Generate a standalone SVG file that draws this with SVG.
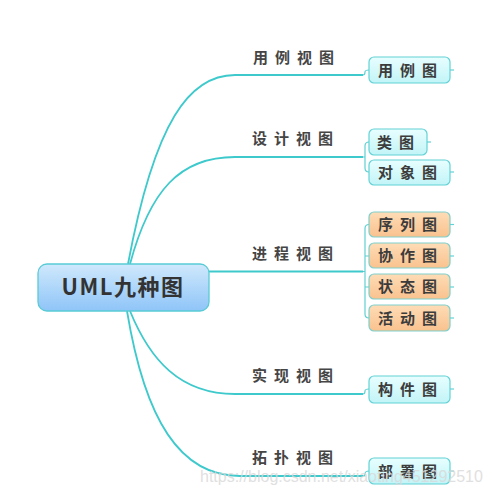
<svg xmlns="http://www.w3.org/2000/svg" width="490" height="495" viewBox="0 0 490 495">
<defs>
<linearGradient id="gRoot" x1="0" y1="0" x2="0" y2="1"><stop offset="0" stop-color="#cfe8fc"/><stop offset="1" stop-color="#8fc5f8"/></linearGradient>
<linearGradient id="gCyan" x1="0" y1="0" x2="0" y2="1"><stop offset="0" stop-color="#e8feff"/><stop offset="1" stop-color="#c2f4f7"/></linearGradient>
<linearGradient id="gOrange" x1="0" y1="0" x2="0" y2="1"><stop offset="0" stop-color="#fedcb6"/><stop offset="1" stop-color="#f9c28e"/></linearGradient>
</defs>
<style>
.c{fill:none;stroke:#3ec9cc;stroke-width:1.8}
.b{fill:none;stroke:#5fd0d2;stroke-width:1.2}
.lbl{font-family:"Noto Sans CJK SC","Noto Sans",sans-serif;font-size:15px;font-weight:bold;fill:#454545;letter-spacing:7px}
.nt{font-family:"Noto Sans CJK SC","Noto Sans",sans-serif;font-size:15px;font-weight:bold;fill:#3c3c3c;letter-spacing:7px}
.cy{fill:url(#gCyan);stroke:#63d2d6;stroke-width:1.2}
.or{fill:url(#gOrange);stroke:#7fcfcc;stroke-width:1.2}
.stub{stroke:#63d2d6;stroke-width:1.2}
.wm{font-family:"Liberation Sans",Arial,sans-serif;font-size:16px;fill:#d9d9d9;opacity:0.8}
</style>
<rect width="490" height="495" fill="#ffffff"/>
<g id="connectors">
<path class="c" d="M128,264 C155,120 190,75 235,75 L363,75"/>
<path class="c" d="M130,264 C150,190 180,157 235,157 L363,157"/>
<path class="c" d="M209,271.5 L363,271.5"/>
<path class="c" d="M130,311 C150,360 180,394 235,394 L363,394"/>
<path class="c" d="M127,311 C145,420 180,476 240,476 L363,476"/>
<path class="b" d="M363,75 Q365,75 365,72 Q365,70 369,70"/>
<path class="b" d="M363,157 L365,157 M369,142 Q365,142 365,146 L365,168 Q365,172 369,172"/>
<path class="b" d="M363,271.5 L365,271.5 M369,224.5 Q365,224.5 365,228.5 L365,314 Q365,318 369,318 M365,256 L369,256 M365,287 L369,287"/>
<path class="b" d="M363,394 Q365,394 365,391 Q365,389 369,389"/>
<path class="b" d="M363,476 Q365,476 365,474 Q365,471 369,471"/>
</g>
<g id="root">
<rect x="38" y="264" width="171" height="47" rx="9" fill="url(#gRoot)" stroke="#58cbd5" stroke-width="1.3"/>
<text x="123" y="295" text-anchor="middle" font-family="'Noto Sans CJK SC','Noto Sans',sans-serif" font-size="22" font-weight="bold" fill="#333333" letter-spacing="1.5">UML九种图</text>
</g>
<g id="label-usecase"><text class="lbl" x="253" y="63">用例视图</text></g>
<g id="label-design"><text class="lbl" x="252" y="144">设计视图</text></g>
<g id="label-process"><text class="lbl" x="252" y="259">进程视图</text></g>
<g id="label-impl"><text class="lbl" x="252" y="381">实现视图</text></g>
<g id="label-topo"><text class="lbl" x="252" y="463">拓扑视图</text></g>
<g id="n-usecase"><rect class="cy" x="369" y="57" width="81" height="26" rx="5"/><line class="stub" x1="450" y1="70" x2="454" y2="70"/><text class="nt" x="378" y="76">用例图</text></g>
<g id="n-class"><rect class="cy" x="369" y="129" width="58" height="26" rx="5"/><line class="stub" x1="427" y1="142" x2="431" y2="142"/><text class="nt" x="377" y="148">类图</text></g>
<g id="n-object"><rect class="cy" x="369" y="160" width="81" height="25" rx="5"/><line class="stub" x1="450" y1="172" x2="454" y2="172"/><text class="nt" x="378" y="178">对象图</text></g>
<g id="n-seq"><rect class="or" x="369" y="212" width="81" height="25" rx="5"/><line class="stub" x1="450" y1="224.5" x2="454" y2="224.5"/><text class="nt" x="378" y="230">序列图</text></g>
<g id="n-collab"><rect class="or" x="369" y="243" width="81" height="25" rx="5"/><line class="stub" x1="450" y1="256" x2="454" y2="256"/><text class="nt" x="378" y="261">协作图</text></g>
<g id="n-state"><rect class="or" x="369" y="274" width="81" height="25" rx="5"/><line class="stub" x1="450" y1="287" x2="454" y2="287"/><text class="nt" x="378" y="292">状态图</text></g>
<g id="n-activity"><rect class="or" x="369" y="305" width="81" height="26" rx="5"/><line class="stub" x1="450" y1="318" x2="454" y2="318"/><text class="nt" x="378" y="324">活动图</text></g>
<g id="n-component"><rect class="cy" x="369" y="376" width="81" height="27" rx="5"/><line class="stub" x1="450" y1="389" x2="454" y2="389"/><text class="nt" x="378" y="395">构件图</text></g>
<g id="n-deploy"><rect class="cy" x="369" y="458" width="81" height="26" rx="5"/><line class="stub" x1="450" y1="471" x2="454" y2="471"/><text class="nt" x="378" y="477">部署图</text></g>
<text class="wm" x="200" y="482">https://blog.csdn.net/xiaoting451292510</text>
</svg>
